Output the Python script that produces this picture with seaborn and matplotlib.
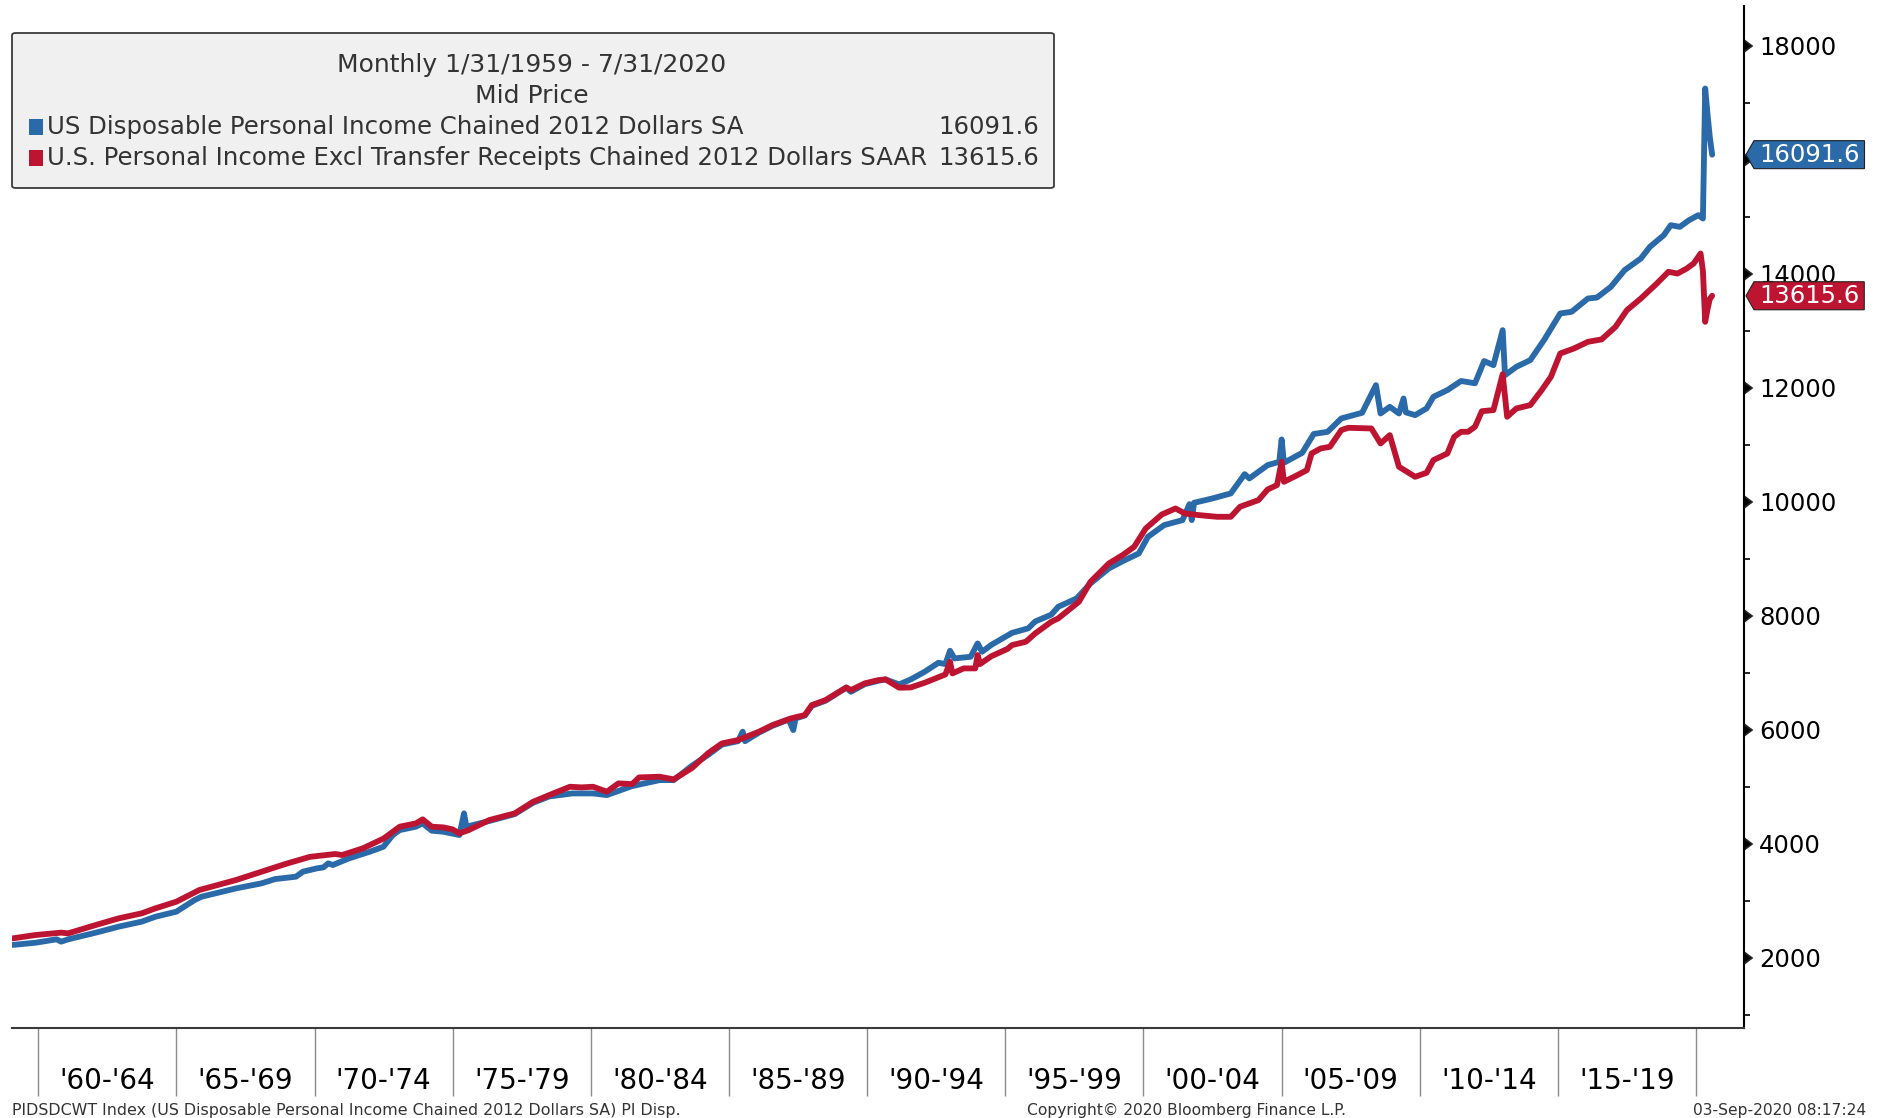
import numpy as np
import pandas as pd
import seaborn as sns
import matplotlib.pyplot as plt
from matplotlib import markers
from matplotlib.path import Path
from matplotlib.patches import FancyBboxPatch, Rectangle

# series (month, level in bn of chained 2012 dollars)
blue_dates = [
    "1959-01", "1959-11", "1960-08", "1960-10", "1961-01", "1962-01", "1962-11", "1963-09",
    "1964-03", "1964-12", "1965-08", "1965-11", "1967-02", "1968-01", "1968-07", "1969-04",
    "1969-07", "1970-01", "1970-04", "1970-06", "1970-08", "1971-03", "1971-12", "1972-06",
    "1972-10", "1973-01", "1973-08", "1973-11", "1974-03", "1974-08", "1975-03", "1975-05",
    "1975-06", "1976-04", "1977-03", "1977-11", "1978-06", "1979-04", "1980-01", "1980-07",
    "1981-06", "1982-06", "1982-12", "1983-08", "1984-03", "1984-09", "1985-04", "1985-06",
    "1985-07", "1986-01", "1986-07", "1987-02", "1987-04", "1987-05", "1987-09", "1987-12",
    "1988-06", "1989-03", "1989-05", "1989-11", "1990-05", "1990-08", "1991-02", "1991-07",
    "1992-01", "1992-07", "1992-10", "1992-12", "1993-02", "1993-09", "1993-12", "1994-02",
    "1994-06", "1995-03", "1995-10", "1996-01", "1996-08", "1996-11", "1997-07", "1998-01",
    "1998-09", "1999-04", "1999-10", "2000-02", "2000-09", "2001-05", "2001-08", "2001-09",
    "2001-10", "2002-06", "2003-02", "2003-08", "2003-10", "2004-06", "2004-11", "2004-12",
    "2005-01", "2005-09", "2006-02", "2006-08", "2007-02", "2007-11", "2008-05", "2008-07",
    "2008-11", "2009-03", "2009-05", "2009-06", "2009-10", "2010-03", "2010-06", "2010-12",
    "2011-06", "2011-12", "2012-04", "2012-08", "2012-12", "2013-01", "2013-06", "2013-12",
    "2014-06", "2015-01", "2015-06", "2016-01", "2016-05", "2016-11", "2017-05", "2017-12",
    "2018-04", "2018-10", "2019-01", "2019-05", "2019-09", "2020-01", "2020-03", "2020-04",
    "2020-05", "2020-06", "2020-07",
]
blue_values = [
    2225, 2264, 2323, 2282, 2323, 2440, 2545, 2633,
    2720, 2808, 3013, 3071, 3217, 3305, 3381, 3422,
    3510, 3568, 3586, 3656, 3627, 3743, 3860, 3948,
    4153, 4240, 4299, 4357, 4229, 4211, 4153, 4533,
    4299, 4400, 4520, 4720, 4830, 4883, 4883, 4854,
    5012, 5117, 5117, 5370, 5560, 5740, 5800, 5966,
    5800, 5950, 6070, 6180, 5995, 6200, 6250, 6420,
    6510, 6740, 6667, 6800, 6860, 6884, 6796, 6884,
    7018, 7176, 7153, 7387, 7252, 7281, 7515, 7369,
    7490, 7700, 7780, 7900, 8020, 8158, 8304, 8568,
    8831, 8977, 9094, 9386, 9591, 9679, 9959, 9679,
    9983, 10059, 10147, 10486, 10410, 10644, 10702, 11094,
    10685, 10860, 11190, 11228, 11463, 11562, 12047, 11550,
    11667, 11550, 11813, 11570, 11521, 11638, 11843, 11960,
    12120, 12080, 12470, 12398, 13012, 12222, 12369, 12486,
    12837, 13305, 13334, 13567, 13585, 13772, 14065, 14269,
    14474, 14679, 14854, 14825, 14942, 15030, 14971, 17252,
    16800, 16400, 16091.6,
]

red_dates = [
    "1959-01", "1959-11", "1960-10", "1961-01", "1962-01", "1962-11", "1963-09", "1964-03",
    "1964-12", "1965-10", "1967-02", "1968-01", "1968-11", "1969-10", "1970-09", "1970-12",
    "1971-09", "1972-06", "1973-01", "1973-08", "1973-11", "1974-03", "1974-08", "1974-12",
    "1975-03", "1975-07", "1976-04", "1977-03", "1977-11", "1978-06", "1979-03", "1979-08",
    "1980-01", "1980-07", "1980-12", "1981-06", "1981-09", "1982-06", "1982-12", "1983-08",
    "1984-03", "1984-09", "1985-04", "1986-01", "1986-07", "1987-03", "1987-09", "1987-12",
    "1988-06", "1989-03", "1989-05", "1989-11", "1990-05", "1990-08", "1991-02", "1991-07",
    "1992-01", "1992-10", "1992-12", "1993-01", "1993-06", "1993-11", "1993-12", "1994-01",
    "1994-06", "1995-01", "1995-03", "1995-09", "1996-01", "1996-08", "1996-11", "1997-08",
    "1998-01", "1998-09", "1999-03", "1999-08", "2000-01", "2000-08", "2001-02", "2001-06",
    "2001-12", "2002-08", "2003-02", "2003-06", "2004-02", "2004-06", "2004-10", "2004-12",
    "2005-01", "2005-06", "2005-11", "2006-01", "2006-05", "2006-09", "2007-02", "2007-05",
    "2008-03", "2008-07", "2008-11", "2009-03", "2009-10", "2010-03", "2010-06", "2010-12",
    "2011-03", "2011-06", "2011-09", "2011-12", "2012-03", "2012-08", "2012-12", "2013-02",
    "2013-06", "2013-12", "2014-05", "2014-09", "2015-01", "2015-07", "2016-01", "2016-07",
    "2017-01", "2017-06", "2017-12", "2018-07", "2018-12", "2019-04", "2019-08", "2019-11",
    "2020-02", "2020-03", "2020-04", "2020-05", "2020-06", "2020-07",
]
red_values = [
    2340, 2399, 2440, 2428, 2574, 2691, 2779, 2867,
    2983, 3188, 3364, 3510, 3640, 3770, 3820, 3802,
    3919, 4090, 4299, 4357, 4428, 4299, 4287, 4252,
    4182, 4240, 4416, 4533, 4737, 4854, 5000, 4989,
    5000, 4913, 5059, 5047, 5164, 5176, 5129, 5330,
    5590, 5761, 5819, 5966, 6083, 6200, 6258, 6433,
    6521, 6743, 6697, 6814, 6872, 6884, 6738, 6743,
    6825, 6971, 7194, 6989, 7077, 7077, 7311, 7153,
    7290, 7420, 7486, 7545, 7690, 7895, 7954, 8246,
    8597, 8918, 9065, 9211, 9532, 9778, 9883, 9796,
    9767, 9737, 9737, 9913, 10030, 10217, 10293, 10702,
    10351, 10450, 10556, 10848, 10936, 10965, 11258, 11299,
    11287, 11024, 11170, 10615, 10439, 10509, 10732, 10848,
    11141, 11228, 11229, 11316, 11590, 11609, 12240, 11492,
    11638, 11697, 11960, 12194, 12603, 12690, 12807, 12850,
    13071, 13363, 13567, 13831, 14036, 14006, 14094, 14182,
    14357, 14050, 13158, 13380, 13560, 13615.6,
]

blue_name = "US Disposable Personal Income Chained 2012 Dollars SA"
red_name = "U.S. Personal Income Excl Transfer Receipts Chained 2012 Dollars SAAR"
blue_last = 16091.6
red_last = 13615.6

period_years = [1960, 1965, 1970, 1975, 1980, 1985, 1990, 1995, 2000, 2005, 2010, 2015, 2020]
period_labels = ["'60-'64", "'65-'69", "'70-'74", "'75-'79", "'80-'84", "'85-'89",
                 "'90-'94", "'95-'99", "'00-'04", "'05-'09", "'10-'14", "'15-'19"]
major_yticks = [2000, 4000, 6000, 8000, 10000, 12000, 14000, 16000, 18000]
minor_yticks = [1000, 3000, 5000, 7000, 9000, 11000, 13000, 15000, 17000]

BLUE = "#2a6aa8"
RED = "#bd1531"
TXT = "#333333"


def month_end(months):
    return pd.to_datetime(months) + pd.offsets.MonthEnd(0)


df = pd.concat([
    pd.DataFrame({"date": month_end(blue_dates), "value": blue_values, "series": blue_name}),
    pd.DataFrame({"date": month_end(red_dates), "value": red_values, "series": red_name}),
], ignore_index=True)

sns.set_theme(style="white")
plt.rcParams["font.family"] = ["DejaVu Sans"]

W, H = 1879, 1118
fig = plt.figure(figsize=(W / 100, H / 100), dpi=100)
ax = fig.add_axes([12 / W, (H - 1028) / H, (1744 - 12) / W, (1028 - 6) / H])

sns.lineplot(data=df, x="date", y="value", hue="series",
             hue_order=[blue_name, red_name], palette={blue_name: BLUE, red_name: RED},
             linewidth=4.2, estimator=None, legend=False, ax=ax)
for line in ax.lines:
    line.set_solid_joinstyle("round")
    line.set_solid_capstyle("round")

ax.set_xlim(pd.Timestamp("1959-01-20"), pd.Timestamp("2021-09-25"))
ax.set_ylim(767, 18700)
ax.set_xlabel("")
ax.set_ylabel("")

for side in ["left", "top"]:
    ax.spines[side].set_visible(False)
ax.spines["right"].set_color("black")
ax.spines["right"].set_linewidth(1.5)
ax.spines["bottom"].set_color("#3a3a3a")
ax.spines["bottom"].set_linewidth(1.5)

# right value axis; the 16000 label sits under the blue tag in the original
ax.yaxis.tick_right()
ax.set_yticks(major_yticks)
ax.set_yticks(minor_yticks, minor=True)
ax.set_yticklabels(["" if v == 16000 else str(v) for v in major_yticks])
ax.tick_params(axis="y", which="major", right=True, left=False, labelright=True,
               labelleft=False, length=0, pad=11, labelsize=17.5, labelcolor="black")
ax.tick_params(axis="y", which="minor", right=True, left=False, length=4,
               width=1.2, color="black", direction="out")
for t in ax.yaxis.get_major_ticks():
    t.tick2line.set_marker(markers.CARETRIGHTBASE)
    t.tick2line.set_markersize(8)
    t.tick2line.set_color("black")

# period boxes under the x axis
bounds = [pd.Timestamp(f"{y}-01-01") for y in period_years]
mids = [pd.Timestamp(f"{y + 2}-07-02") for y in period_years[:-1]]
ax.set_xticks(mids)
ax.set_xticklabels(period_labels)
ax.set_xticks(bounds, minor=True)
ax.tick_params(axis="x", which="major", length=0, pad=28, labelsize=20, labelcolor="black")
ax.tick_params(axis="x", which="minor", bottom=True, length=49, width=1,
               color="#8a8a8a", direction="out")
ax.grid(False)

# legend panel
fig.patches.append(FancyBboxPatch((12 / W, (H - 188) / H), 1042 / W, 155 / H,
                                  boxstyle="round,pad=0,rounding_size=0.002",
                                  transform=fig.transFigure, facecolor="#f0f0f0",
                                  edgecolor="#3a3a3a", linewidth=1.3))
fig.text(532 / W, (H - 65) / H, "Monthly 1/31/1959 - 7/31/2020", ha="center", va="center",
         fontsize=18, color=TXT)
fig.text(532 / W, (H - 96) / H, "Mid Price", ha="center", va="center", fontsize=18, color=TXT)
for name, last, color, ypix in [(blue_name, blue_last, BLUE, 127), (red_name, red_last, RED, 158)]:
    fig.patches.append(Rectangle((29 / W, (H - ypix - 8) / H), 14 / W, 16 / H,
                                 transform=fig.transFigure, facecolor=color, edgecolor="none"))
    fig.text(47 / W, (H - ypix) / H, name, ha="left", va="center", fontsize=17.6, color=TXT)
    fig.text(1039 / W, (H - ypix) / H, f"{last:.1f}", ha="right", va="center",
             fontsize=17.6, color=TXT)


# last-value tags on the right axis
def tag_shape(x0, y0, width, height, mutation_size):
    xl, xr = x0 - 5, x0 + width + 5
    yb, yt = y0 - 2, y0 + height + 2
    tip = 8
    ym = (yb + yt) / 2
    return Path([(xl - tip, ym), (xl, yb), (xr, yb), (xr, yt), (xl, yt), (xl - tip, ym)],
                closed=True)


for last, color in [(blue_last, BLUE), (red_last, RED)]:
    ax.annotate(f"{last:.1f}", xy=(1, last), xycoords=ax.get_yaxis_transform(),
                xytext=(15, 0), textcoords="offset pixels", ha="left", va="center",
                fontsize=17.5, color="white", annotation_clip=False,
                bbox=dict(boxstyle=tag_shape, facecolor=color, edgecolor="#202020",
                          linewidth=0.8))

# footer
fig.text(12 / W, 8 / H, "PIDSDCWT Index (US Disposable Personal Income Chained 2012 Dollars SA) PI Disp.",
         ha="left", va="center", fontsize=11.4, color=TXT)
fig.text(1027 / W, 8 / H, "Copyright\u00a9 2020 Bloomberg Finance L.P.", ha="left", va="center",
         fontsize=11.2, color=TXT)
fig.text(1866 / W, 8 / H, "03-Sep-2020 08:17:24", ha="right", va="center", fontsize=11.2, color=TXT)

fig.savefig("out.png", dpi=100, facecolor="white")
